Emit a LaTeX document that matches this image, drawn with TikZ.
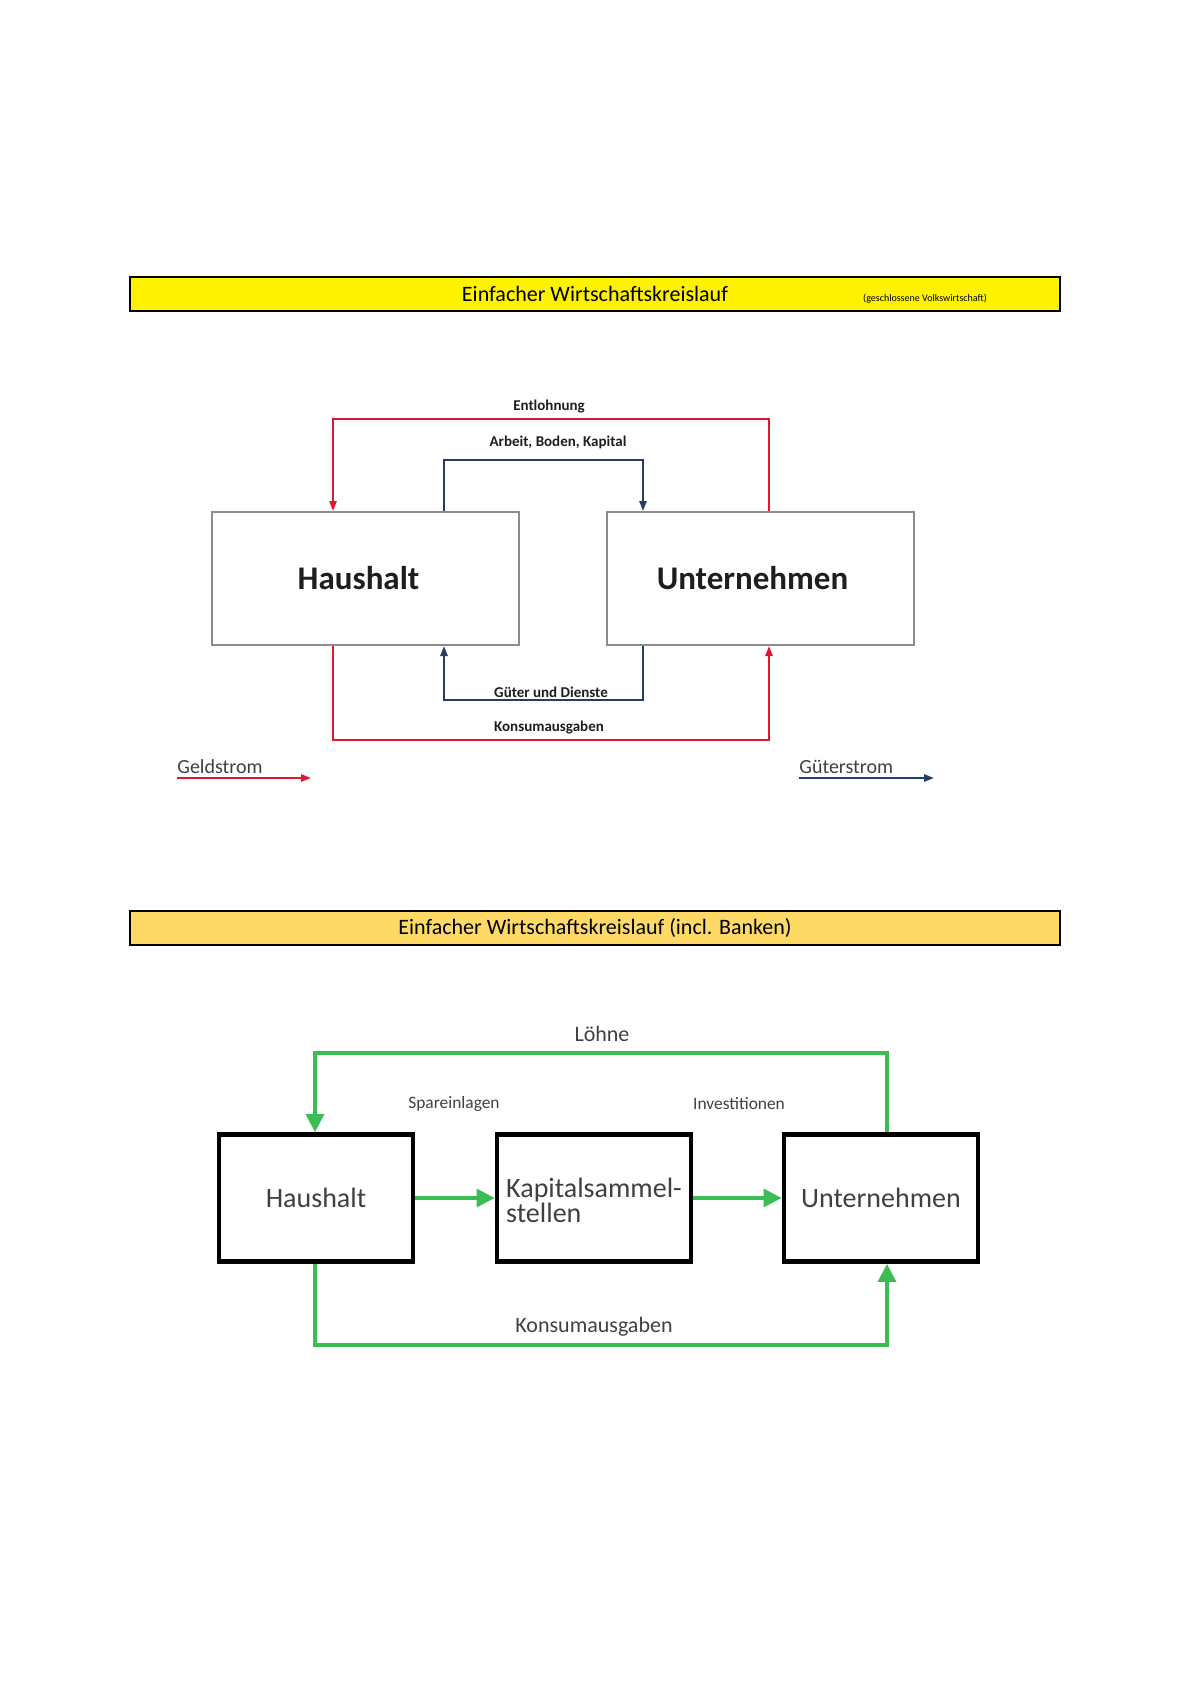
\documentclass[tikz,border=0pt]{standalone}
\usepackage{fontspec}
\setmainfont{Carlito}
\usetikzlibrary{arrows.meta,calc}
\definecolor{geldred}{RGB}{226,22,48}
\definecolor{gutblue}{RGB}{38,62,102}
\definecolor{boxgray}{RGB}{140,140,140}
\definecolor{kgreen}{RGB}{58,190,84}
\definecolor{bargold}{RGB}{255,217,102}
\definecolor{txtgray}{RGB}{64,64,64}
\definecolor{txtdark}{RGB}{30,30,30}
\newcommand{\fixline}[1]{\hbox{\smash{#1}\vrule height 10pt depth 2.4pt width 0pt}}
\tikzset{
  titlebar/.style={draw=black, line width=0.8pt, minimum width=465pt, minimum height=17pt, inner sep=0pt, font=\fontsize{11}{13}\selectfont},
  graybox/.style={draw=boxgray, line width=1pt, minimum width=153.5pt, minimum height=66.5pt, inner sep=0pt, font=\bfseries\fontsize{16.5}{19}\selectfont, text=txtdark},
  flowlabel/.style={font=\bfseries\fontsize{7.5}{9}\selectfont, text=txtdark, inner sep=1pt},
  legtext/.style={font=\fontsize{10}{12}\selectfont, text=txtgray, inner sep=0pt, anchor=west},
  redflow/.style={draw=geldred, line width=1pt, -{Triangle[length=5pt,width=3.6pt]}},
  blueflow/.style={draw=gutblue, line width=1pt, -{Triangle[length=5pt,width=3.6pt]}},
  kbox/.style={draw=black, line width=2.4pt, minimum width=97pt, minimum height=63.5pt, inner sep=0pt, font=\fontsize{14}{12}\selectfont, text=txtgray},
  greenflow/.style={draw=kgreen, line width=1.6pt, -{Triangle[length=9pt,width=9pt]}},
  greenlabel/.style={text=txtgray, inner sep=1pt},
}
\begin{document}
\begin{tikzpicture}[x=0.5pt,y=-0.5pt]
\useasboundingbox (0,0) rectangle (1191,1684);
\fill[white] (0,0) rectangle (1191,1684);

% ---------- top section ----------
\node[titlebar, fill=yellow] (bar1) at (595,294) {Einfacher Wirtschaftskreislauf};
\node[font=\fontsize{5}{6}\selectfont, inner sep=0pt] (sub1) at (925,299) {(geschlossene Volkswirtschaft)};

\node[graybox] (hh) at (365.5,578.5) {\hspace*{-7pt}Haushalt};
\node[graybox] (un) at (760.5,578.5) {\hspace*{-8pt}Unternehmen};

\coordinate (eL) at (333,419); \coordinate (eR) at (769,419);
\draw[redflow] (un.north -| eR) -- (eR) -- (eL) -- (hh.north -| eL);
\coordinate (aL) at (444,460); \coordinate (aR) at (643,460);
\draw[blueflow] (hh.north -| aL) -- (aL) -- (aR) -- (un.north -| aR);
\coordinate (gL) at (444,700); \coordinate (gR) at (643,700);
\draw[blueflow] (un.south -| gR) -- (gR) -- (gL) -- (hh.south -| gL);
\coordinate (kL) at (333,740); \coordinate (kR) at (769,740);
\draw[redflow] (hh.south -| kL) -- (kL) -- (kR) -- (un.south -| kR);

\node[flowlabel] (lEnt) at (549,407) {Entlohnung};
\node[flowlabel] (lArb) at (558,442) {Arbeit, Boden, Kapital};
\node[flowlabel] (lGut) at (551,692) {Güter und Dienste};
\node[flowlabel] (lKon) at (549,728) {Konsumausgaben};

\node[legtext] (geld) at (177,767) {Geldstrom};
\coordinate (g0) at (177,778); \coordinate (g1) at (311,778);
\draw[redflow] (g0) -- (g1);
\node[legtext] (gueter) at (799,767) {Güterstrom};
\coordinate (b0) at (799,778); \coordinate (b1) at (934,778);
\draw[blueflow] (b0) -- (b1);

% ---------- bottom section ----------
\node[titlebar, fill=bargold] (bar2) at (595,928) {Einfacher Wirtschaftskreislauf (incl. Banken)};

\node[kbox] (hh2) at (316,1198) {Haushalt};
\node[kbox] (ks) at (594,1198) {\vbox{\hsize=84pt\offinterlineskip\kern4pt\fixline{Kapitalsammel-}\fixline{stellen}}};
\node[kbox] (un2) at (881,1198) {Unternehmen};

\coordinate (lL) at (315,1053); \coordinate (lR) at (887,1053);
\draw[greenflow] (un2.north -| lR) -- (lR) -- (lL) -- (hh2.north -| lL);
\draw[greenflow] (hh2.east) -- (ks.west);
\draw[greenflow] (ks.east) -- (un2.west);
\coordinate (cL) at (315,1345); \coordinate (cR) at (887,1345);
\draw[greenflow] (hh2.south -| cL) -- (cL) -- (cR) -- (un2.south -| cR);

\node[greenlabel, font=\fontsize{11}{13}\selectfont] (lLoe) at (602,1034) {Löhne};
\node[greenlabel, font=\fontsize{8.7}{10}\selectfont] (lSpa) at (454,1104) {Spareinlagen};
\node[greenlabel, font=\fontsize{8.7}{10}\selectfont] (lInv) at (739,1104) {Investitionen};
\node[greenlabel, font=\fontsize{11}{13}\selectfont] (lKon2) at (594,1327) {Konsumausgaben};
\end{tikzpicture}
\end{document}
